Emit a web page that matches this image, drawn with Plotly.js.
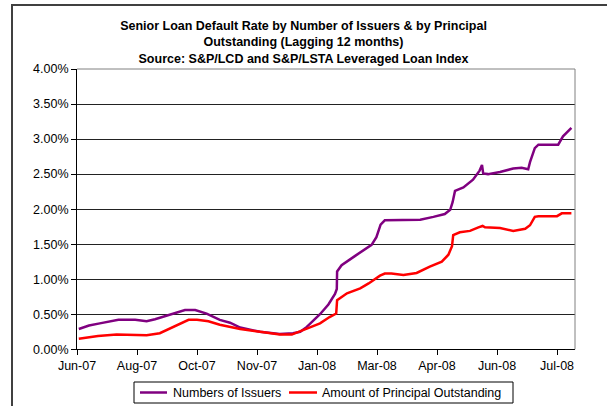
<!DOCTYPE html>
<html>
<head>
<meta charset="utf-8">
<script src="https://cdn.plot.ly/plotly-3.0.1.min.js"></script>
<style>html,body{margin:0;padding:0;background:#fff;}#chart{width:607px;height:406px;}</style>
</head>
<body>
<div id="chart"></div>
<script>
// Tick labels (category ticks placed every 10 periods)
const tickPositions = [0, 10, 20, 30, 40, 50, 60, 70, 80];
const tickLabels = ["Jun-07", "Aug-07", "Oct-07", "Nov-07", "Jan-08", "Mar-08", "Apr-08", "Jun-08", "Jul-08"];
const seriesNames = ["Numbers of Issuers", "Amount of Principal Outstanding"];
const seriesColors = ["#800080", "#FF0000"];

// Numbers of Issuers (period index, default rate %)
const issuersX = [0.3, 2, 3.8, 6.9, 9.7, 11.6, 13, 15.5, 18, 19.7, 21.6, 23.8, 25.5, 27.2, 30.5, 33.8, 36, 37.2, 38.3, 40.5, 41.9, 43, 43.3, 43.35, 44.1, 46.3, 49.1, 49.9, 50.6, 51.3, 55.5, 57.2, 59.4, 61.3, 62.2, 62.6, 63.0, 64.4, 66, 67.1, 67.5, 67.7, 68.5, 70.5, 72.7, 74.1, 75.2, 75.5, 76.3, 76.9, 80.2, 81, 82.4];
const issuersY = [0.29, 0.34, 0.37, 0.42, 0.42, 0.40, 0.43, 0.50, 0.56, 0.56, 0.51, 0.42, 0.38, 0.31, 0.25, 0.22, 0.23, 0.25, 0.32, 0.50, 0.64, 0.79, 0.86, 1.11, 1.20, 1.33, 1.49, 1.60, 1.78, 1.84, 1.84, 1.85, 1.89, 1.93, 1.99, 2.10, 2.26, 2.31, 2.42, 2.55, 2.63, 2.51, 2.50, 2.53, 2.58, 2.59, 2.57, 2.67, 2.87, 2.92, 2.92, 3.04, 3.16];

// Amount of Principal Outstanding (period index, default rate %)
const principalX = [0.3, 3.5, 6.6, 9.9, 11.6, 13.8, 15.8, 18.6, 20, 21.9, 23.8, 27.2, 30.5, 33.8, 35.8, 38.3, 40.5, 42.1, 43.2, 43.35, 45, 47.2, 48.6, 50.5, 51.3, 52.4, 54.4, 56.6, 58.8, 60.8, 61.9, 62.5, 62.7, 63.8, 65.5, 66.9, 67.6, 68, 70.5, 72.7, 74.7, 75.5, 76.3, 76.9, 80.0, 80.8, 82.4];
const principalY = [0.15, 0.19, 0.21, 0.20, 0.20, 0.23, 0.31, 0.42, 0.42, 0.40, 0.35, 0.29, 0.25, 0.21, 0.21, 0.29, 0.37, 0.46, 0.51, 0.70, 0.80, 0.87, 0.94, 1.05, 1.08, 1.08, 1.06, 1.09, 1.18, 1.25, 1.35, 1.47, 1.63, 1.67, 1.69, 1.74, 1.76, 1.74, 1.73, 1.69, 1.72, 1.77, 1.89, 1.90, 1.90, 1.94, 1.94];

const FONT = "Liberation Sans, Arial, sans-serif";

// paper area: x 77..575 (498 px), y 69..398 (329 px)
const PW = 498, PH = 329, PT = 69, PL = 77;
const px = v => (v - PL) / PW;
const py = v => 1 - (v - PT) / PH;

const traces = [
  {x: issuersX, y: issuersY, type: "scatter", mode: "lines", name: seriesNames[0],
   line: {color: seriesColors[0], width: 2.5}},
  {x: principalX, y: principalY, type: "scatter", mode: "lines", name: seriesNames[1],
   line: {color: seriesColors[1], width: 2.5}}
];

// Legend box drawn in Excel style (compact single row)
const LEG_Y = py(392.5);
const legendShapes = [
  {type: "rect", xref: "paper", yref: "paper", x0: px(134), x1: px(513), y0: py(403), y1: py(382),
   line: {color: "#000", width: 1}, fillcolor: "#fff", layer: "above"},
  {type: "line", xref: "paper", yref: "paper", x0: px(140), x1: px(167), y0: LEG_Y, y1: LEG_Y,
   line: {color: seriesColors[0], width: 2.5}},
  {type: "line", xref: "paper", yref: "paper", x0: px(289), x1: px(317), y0: LEG_Y, y1: LEG_Y,
   line: {color: seriesColors[1], width: 2.5}}
];
const legendAnnotations = [
  {xref: "paper", yref: "paper", x: px(170.5), y: LEG_Y, xanchor: "left", yanchor: "middle",
   text: seriesNames[0], showarrow: false, font: {family: FONT, size: 12.5, color: "#000"}},
  {xref: "paper", yref: "paper", x: px(320), y: LEG_Y, xanchor: "left", yanchor: "middle",
   text: seriesNames[1], showarrow: false, font: {family: FONT, size: 12.5, color: "#000"}}
];

const layout = {
  width: 607, height: 406,
  paper_bgcolor: "#fff", plot_bgcolor: "#fff",
  margin: {l: 77, r: 32, t: 69, b: 8, autoexpand: false},
  font: {family: FONT, size: 12, color: "#000"},
  title: {
    text: "<b>Senior Loan Default Rate by Number of Issuers & by Principal<br>Outstanding (Lagging 12 months)<br>Source: S&P/LCD and S&P/LSTA Leveraged Loan Index</b>",
    font: {family: FONT, size: 12.5, color: "#000"},
    x: 0.5, xref: "container", y: 1 - 30/406, yref: "container", yanchor: "top"
  },
  xaxis: {
    range: [0, 83], tickmode: "array", tickvals: tickPositions, ticktext: tickLabels,
    showgrid: false, zeroline: false, showline: true, linecolor: "#000", linewidth: 1,
    ticks: "outside", ticklen: 5, tickcolor: "#000", automargin: false,
    tickfont: {family: FONT, size: 12.5, color: "#000"}, fixedrange: true
  },
  yaxis: {
    range: [0, 4], dtick: 0.5, tickformat: ".2f", ticksuffix: "%",
    domain: [py(349.3), 1],
    showgrid: true, gridcolor: "#222", gridwidth: 1, zeroline: false,
    showline: true, linecolor: "#000", linewidth: 1,
    ticks: "outside", ticklen: 5, tickcolor: "#000", automargin: false,
    tickfont: {family: FONT, size: 12.5, color: "#000"}, fixedrange: true
  },
  showlegend: false,
  annotations: legendAnnotations,
  shapes: [
    // plot-area border (top and right, gray)
    {type: "line", xref: "paper", yref: "paper", x0: 0, x1: 1, y0: 1, y1: 1, line: {color: "#808080", width: 1}},
    {type: "line", xref: "paper", yref: "paper", x0: 1, x1: 1, y0: py(349.3), y1: 1, line: {color: "#808080", width: 1}},
    // outer chart frame (left and top)
    {type: "line", xref: "paper", yref: "paper", x0: px(12), x1: px(12), y0: py(410), y1: py(4), line: {color: "#404040", width: 2}},
    {type: "line", xref: "paper", yref: "paper", x0: px(11), x1: px(610), y0: py(5), y1: py(5), line: {color: "#404040", width: 2}}
  ].concat(legendShapes)
};

Plotly.newPlot("chart", traces, layout, {displayModeBar: false, staticPlot: true});
</script>
</body>
</html>
